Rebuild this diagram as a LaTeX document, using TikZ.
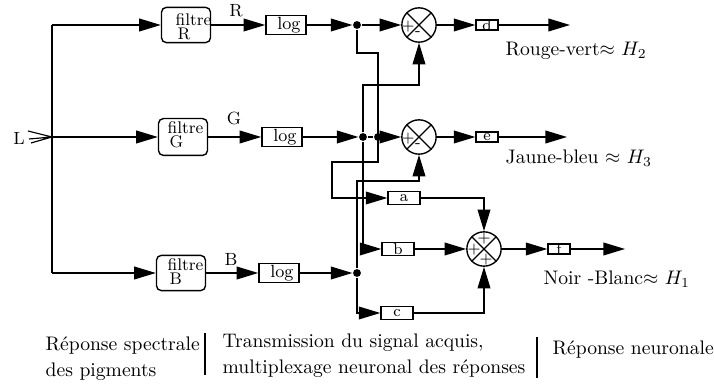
\documentclass[tikz,border=0pt]{standalone}
\usetikzlibrary{arrows.meta}
\begin{document}
\begin{tikzpicture}[x=0.51pt,y=-0.51pt,line width=0.7pt,
  arr/.style={-{Triangle[length=11pt,width=6.5pt]}},
  filt/.style={draw,rounded corners=2.5pt,minimum width=25pt,minimum height=18pt,inner sep=0pt},
  logbox/.style={draw,minimum width=20.5pt,minimum height=9.7pt,inner sep=0pt,font=\small},
  midbox/.style={draw,minimum width=16.3pt,minimum height=6.6pt,inner sep=0pt},
  outbox/.style={draw,minimum width=11.2pt,minimum height=5.2pt,inner sep=0pt},
  boxtxt/.style={font=\footnotesize,inner sep=0pt},
  summ/.style={draw,circle,minimum size=17.5pt,inner sep=0pt},
  dot/.style={circle,fill,inner sep=0pt,minimum size=4pt},
  sgn/.style={font=\footnotesize,inner sep=0pt},
  lbl/.style={font=\small,inner sep=0pt},
  ftxt/.style={font=\fontsize{8.6}{7}\selectfont,inner sep=0pt,align=left,anchor=north west},
  txt/.style={inner sep=0pt,anchor=base west},
  sep/.style={line width=0.6pt}]
\useasboundingbox (0,0) rectangle (714,385);

% input and its trunk
\node[lbl] (L) at (19,138) {L};
\coordinate (Ltip) at (52,137);
\coordinate (tTop) at (52,25);
\coordinate (tBot) at (52,273);
\draw[line width=0.6pt] (28,131) -- (Ltip) -- (31,143) (29,139) -- (Ltip);
\draw (tTop) -- (tBot);

% pigment filters
\node[filt] (fR) at (186,25) {};
\node[filt,minimum height=18.8pt] (fG) at (183,137) {};
\node[filt] (fB) at (181,273) {};
\node[ftxt] (fRt) at (175,13) {filtre\\\hspace*{1pt}R};
\node[ftxt] (fGt) at (167,121) {filtre\\\hspace*{1pt}G};
\node[ftxt] (fBt) at (167,258) {filtre\\\hspace*{1pt}B};

% logarithmic compression
\node[logbox] (logR) at (286,25) {\hspace*{3pt}log};
\node[logbox] (logG) at (282,137) {\hspace*{3pt}log};
\node[logbox] (logB) at (279,273) {\hspace*{3pt}log};
\node[lbl] (lR) at (236,11) {R};
\node[lbl] (lG) at (234,118) {G};
\node[lbl] (lB) at (231,259) {B};

% branching points
\node[dot] (dR) at (357,25) {};
\node[dot] (dG1) at (363,137) {};
\node[dot] (dG2) at (378,137) {};
\node[dot] (dB) at (357,273) {};

% opponent summers
\node[summ] (cR) at (419,25) {};
\node[summ] (cG) at (419,137) {};
\node[summ] (cS) at (484,249) {};
\foreach \c in {cR,cG,cS}
  \draw (\c.north west) -- (\c.south east) (\c.north east) -- (\c.south west);
\node[sgn] (pR) at (408,27) {+};
\node[sgn] (mR) at (418,34) {-};
\node[sgn] (pG) at (408,139) {+};
\node[sgn] (mG) at (418,146) {-};
\node[sgn] (pS1) at (484,239) {+};
\node[sgn] (pS2) at (474,250) {+};
\node[sgn] (pS3) at (486,260) {+};

% weighting boxes
\node[outbox] (bd) at (487,25) {};
\node[boxtxt] at (bd) {d};
\node[outbox] (be) at (487,137) {};
\node[boxtxt] at (be) {e};
\node[midbox] (ba) at (404,198) {};
\node[boxtxt] at (ba) {a};
\node[midbox] (bb) at (398,249) {};
\node[boxtxt] at (bb) {b};
\node[midbox] (bc) at (397,313) {};
\node[boxtxt] at (bc) {c};
\node[outbox] (bf) at (559,249) {};
\node[boxtxt] at (bf) {f};

\coordinate (oR) at (570,25);
\coordinate (oG) at (567,137);
\coordinate (oS) at (625,249);

% main signal paths
\draw[arr] (tTop) -- (fR);
\draw[arr] (Ltip) -- (fG);
\draw[arr] (tBot) -- (fB);
\draw[arr] (fR) -- (logR);
\draw[arr] (fG) -- (logG);
\draw[arr] (fB) -- (logB);
\draw[arr] (logR) -- (dR);
\draw[arr] (logG) -- (dG1);
\draw[arr] (logB) -- (dB);
\draw (dG1) -- (dG2);
\draw[arr] (dR) -- (cR);
\draw[arr] (dG2) -- (cG);
\draw[arr] (cR) -- (bd);
\draw[arr] (cG) -- (be);
\draw[arr] (bd) -- (oR);
\draw[arr] (be) -- (oG);

% cross connections
\draw[arr] (dR) |- (378,53) |- (332,162) |- (ba);
\draw[arr] (dG1) -- ++(0,-52) -| (cR);
\draw[arr] (dG1) |- (bb);
\draw[arr] (dB) -- ++(0,-92) -| (cG);
\draw[arr] (dB) |- (bc);
\draw[arr] (ba) -| (cS);
\draw[arr] (bb) -- (cS);
\draw[arr] (bc) -| (cS);
\draw[arr] (cS) -- (bf);
\draw[arr] (bf) -- (oS);

% output labels
\node[anchor=west,inner sep=0pt] (hR) at (505,51) {Rouge-vert$\approx$ $H_2$};
\node[anchor=west,inner sep=0pt] (hG) at (505,158) {Jaune-bleu $\approx$ $H_3$};
\node[anchor=west,inner sep=0pt] (hS) at (543,279) {Noir -Blanc$\approx$ $H_1$};

% stage captions
\node[txt] (s1a) at (45,351) {Réponse spectrale};
\node[txt] (s1b) at (45,377) {des pigments};
\node[txt] (s2a) at (222,348) {Transmission du signal acquis,};
\node[txt] (s2b) at (222,374) {multiplexage neuronal des réponses};
\node[txt] (s3) at (552,355) {Réponse neuronale};
\coordinate (v1a) at (205,333);
\coordinate (v1b) at (205,375);
\coordinate (v2a) at (537,337);
\coordinate (v2b) at (537,378);
\draw[sep] (v1a) -- (v1b);
\draw[sep] (v2a) -- (v2b);
\end{tikzpicture}
\end{document}
